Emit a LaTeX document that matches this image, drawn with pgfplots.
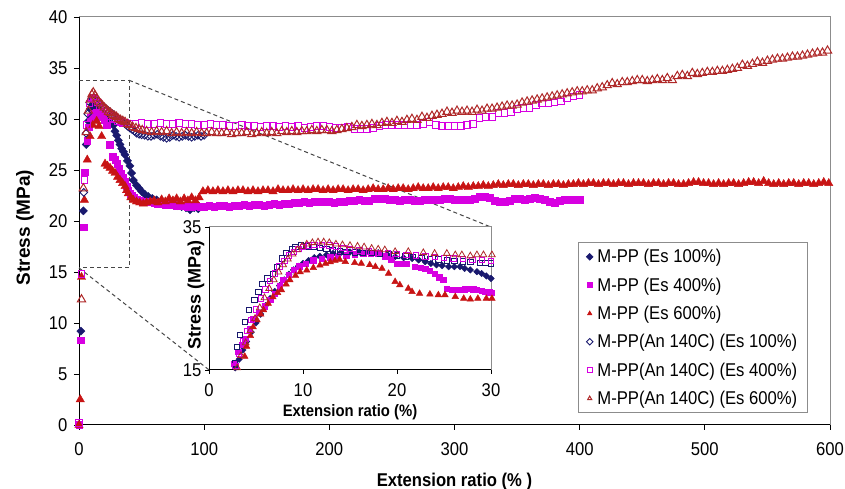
\documentclass[border=0pt]{standalone}
\usepackage{pgfplots}
\pgfplotsset{compat=1.18}
\usepackage{fontspec}
\setmainfont{Liberation Sans}[FakeStretch=0.9]
\newfontfamily\plainsans{Liberation Sans}
\definecolor{cnavy}{RGB}{25,25,110}
\definecolor{cmag}{RGB}{215,0,225}
\definecolor{cred}{RGB}{200,20,20}
\definecolor{copenred}{RGB}{175,40,40}
\definecolor{cdash}{RGB}{70,70,70}
\definecolor{cframe}{RGB}{140,140,140}
\begin{document}
\begin{tikzpicture}[x=1pt,y=1pt]
\useasboundingbox (0,0) rectangle (845,489);
\begin{axis}[
  at={(79pt,64pt)}, anchor=south west,
  scale only axis, width=751pt, height=408pt,
  xmin=0, xmax=600, ymin=0, ymax=40,
  xtick={0,100,...,600}, ytick={0,5,...,40},
  axis x line*=bottom, axis y line*=left,
  axis line style={black, line width=1pt, -},
  tick align=outside, major tick length=5pt,
  tick style={black, line width=0.8pt},
  /pgf/number format/assume math mode=true,
  tick label style={font=\fontsize{18.5}{20}\selectfont},
  xticklabel style={yshift=-9pt},
  yticklabel style={xshift=-3pt},
  xlabel={Extension ratio (\% )},
  ylabel={Stress (MPa)},
  xlabel style={font=\fontsize{18.5}{20}\selectfont\bfseries, at={(axis description cs:0.5,-0.139)}, anchor=center},
  ylabel style={font=\fontsize{19}{20}\plainsans\bfseries, at={(axis description cs:-0.072,0.484)}, anchor=center},
  clip=false,
  legend cell align=left,
  legend style={at={(rel axis cs:0.6645,0.4485)}, anchor=north west, draw=cframe, line width=0.8pt, fill=white,
    font=\fontsize{18.5}{20}\selectfont, row sep=9.4pt, inner xsep=8pt, inner ysep=5pt,
    nodes={inner sep=2pt}},
  legend image post style={mark size=2.3pt, line width=0.8pt},
]
% dashed zoom guides
\draw[cdash, dash pattern=on 4pt off 3pt, line width=1pt] (axis cs:0,33.8) -- (axis cs:40,33.8) -- (axis cs:40,15.4) -- (axis cs:0,15.4);
\draw[cdash, dash pattern=on 4pt off 3pt, line width=1pt] (axis cs:40,33.8) -- (axis cs:329.2,19.4);
\draw[cdash, dash pattern=on 4pt off 3pt, line width=1pt] (axis cs:0,15.4) -- (axis cs:103.9,5.4);
\draw[cframe, line width=1pt] (rel axis cs:0,1) -- (rel axis cs:1,1) -- (rel axis cs:1,0);

% M-PP (Es 100%)
\addplot[only marks, mark=square*, mark options={rotate=45}, mark size=2.9pt, color=cnavy] coordinates {
(1.5,9.2)(3.5,21.0)(5.8,27.5)(7.5,29.8)(9,31.0)(10.5,31.4)(12,31.3)(13.5,31.1)(15,30.9)(16.8,30.7)(18.5,30.5)(20.3,30.3)(22.1,30.1)(24,29.8)(25.7,29.6)(27.4,29.4)(28.8,28.8)(30.1,28.4)(31.4,27.9)(32.8,27.5)(34.1,27.1)(35.5,26.8)(36.8,26.5)(38.7,25.9)(40.7,25.4)(42,24.7)(43.4,24.0)(46,23.5)(48,23.2)(50.1,22.9)(52.7,22.6)(55.4,22.4)(58.5,22.2)(62,22.06)(65.5,21.9)(69,21.8)(72,21.75)(75.3,21.7)(79,21.5)(82,21.4)(85.5,21.3)(88.7,21.1)(92,21.3)(95.3,21.2)
};
\addlegendentry{\hspace{2.5pt}M-PP (Es 100\%)}

% M-PP (Es 400%)
\addplot[only marks, mark=square*, mark size=3.3pt, color=cmag] coordinates {
(0,0)(1.5,8.3)(3.8,19.4)(4.6,24.8)(6.6,27.9)(7.8,29.2)(9.3,30.1)(11,30.4)(12.5,30.5)(14,30.6)(16,30.4)(18,30.2)(20,29.9)(22,29.4)(24.5,27.5)(26.9,26.3)(28.8,26.0)(30.6,25.6)(32,25.1)(33.3,24.7)(35,24.3)(36.7,23.9)(38,23.4)(39.4,23.0)(40.8,22.7)(42.1,22.5)(44,22.3)(46,22.1)(48.5,22.0)(51,21.9)(54,21.9)(56.7,21.9)(60,21.8)(63,21.7)(66,21.7)(69,21.6)(72,21.6)(75,21.6)(78,21.5)(81,21.5)(84,21.5)(87,21.4)(90,21.4)(93,21.5)(96.7,21.4)
(100,21.4)(104,21.5)(108,21.4)(112,21.5)(116,21.5)(120,21.4)(124,21.5)(128,21.5)(132,21.6)(136,21.5)(140,21.6)(144,21.6)(148,21.5)(152,21.6)(156,21.7)(160,21.6)(164,21.7)(168,21.7)(172,21.8)(176,21.8)(180,21.9)(184,21.8)(188,21.9)(192,21.9)(196,21.9)(200,21.9)(204,21.8)(208,21.9)(212,21.9)(216,22.0)(220,22.0)(224,22.1)(228,22.0)(232,22.0)(236,22.2)(240,22.2)(244,22.2)(248,22.1)(252,22.1)(256,22.0)(260,22.1)(264,22.1)(268,22.0)(272,22.0)(276,22.1)(280,22.1)(284,22.1)(288,22.1)(292,22.2)(296,22.2)(300,22.1)(304,22.1)(308,22.1)(312,22.1)(316,22.2)(320,22.4)(324,22.4)(328,22.3)(332,22.0)(336,21.9)(340,21.9)(344,22.0)(348,22.2)(352,22.2)(356,22.1)(360,22.2)(364,22.3)(368,22.2)(372,22.1)(376,21.9)(380,21.8)(384,22.0)(388,22.1)(392,22.1)(396,22.1)(400,22.1)
};
\addlegendentry{\hspace{2.5pt}M-PP (Es 400\%)}

% M-PP (Es 600%)
\addplot[only marks, mark=triangle*, mark size=4.8pt, color=cred] coordinates {
(0,0)(1,2.5)(2,14.5)(4.3,22.06)(6.6,26.0)(8.8,28.3)(11,29.4)(14.1,29.8)(16,29.3)(18.1,28.3)(20.8,25.6)(22.8,25.4)(24.8,25.2)(26.8,24.9)(28.8,24.7)(30.8,24.3)(32.8,24.0)(34.8,23.7)(36.8,23.4)(38,23.0)(39.4,22.7)(41.4,22.3)(43.4,22.06)(46,21.9)(48.5,21.8)
(51.4,21.7)(54,21.8)(57,21.9)(60,22.0)(63,21.8)(66,22.1)(69,21.9)(72,22.2)(75,22.0)(78,22.2)(81,21.9)(84,22.2)(87,22.0)(90,22.3)(93,22.0)(96,22.3)
(99,22.9)(103,23.0)(107,22.9)(111,23.0)(115,22.9)(119,23.0)(123,22.9)(127,23.0)(131,23.0)(135,22.9)(139,23.0)(143,22.9)(147,23.0)(151,23.0)(155,22.9)(159,23.1)(163,23.0)(167,23.0)(171,23.1)(175,23.0)(179,23.1)(183,23.0)(187,23.1)(191,23.1)(195,23.0)(199,23.1)(203,23.0)(207,23.1)(211,23.1)(215,23.0)(219,23.1)(223,23.1)(227,23.0)(231,23.1)(235,23.2)(239,23.1)(243,23.1)(247,23.2)(251,23.1)(255,23.2)(259,23.2)(263,23.1)(267,23.2)(271,23.3)(275,23.2)(279,23.2)(283,23.3)(287,23.2)(291,23.3)(295,23.3)(299,23.2)(303,23.3)(307,23.4)(311,23.3)(315,23.4)(319,23.4)(323,23.5)(327,23.4)(331,23.5)(335,23.6)(339,23.5)(343,23.6)(347,23.6)(351,23.5)(355,23.6)(359,23.6)(363,23.5)(367,23.6)(371,23.6)(375,23.5)(379,23.6)(383,23.6)(387,23.5)(391,23.6)(395,23.6)(399,23.7)(403,23.6)(407,23.7)(411,23.7)(415,23.6)(419,23.7)(423,23.7)(427,23.6)(431,23.7)(435,23.7)(439,23.6)(443,23.7)(447,23.7)(451,23.7)(455,23.6)(459,23.7)(463,23.7)(467,23.6)(471,23.7)(475,23.7)(479,23.6)(483,23.6)(487,23.7)(491,23.8)(495,23.8)(499,23.7)(503,23.7)(507,23.6)(511,23.7)(515,23.6)(519,23.7)(523,23.7)(527,23.6)(531,23.7)(535,23.8)(539,23.8)(543,23.7)(547,23.9)(551,23.7)(555,23.6)(559,23.7)(563,23.6)(567,23.7)(571,23.7)(575,23.6)(579,23.7)(583,23.7)(587,23.6)(591,23.7)(595,23.8)(599,23.7)
};
\addlegendentry{\hspace{2.5pt}M-PP (Es 600\%)}

% M-PP(An 140C) (Es 100%)
\addplot[only marks, mark=square, mark options={rotate=45, line width=0.9pt}, mark size=2.7pt, color=cnavy] coordinates {
(3.8,22.8)(5.6,28.6)(7,30.5)(8.5,31.6)(10.1,32.0)(11.5,32.0)(13,31.9)(14.8,31.7)(16.8,31.5)(18.8,31.3)(20.8,31.1)(22.8,30.9)(24.8,30.7)(26.8,30.5)(28.8,30.3)(30.8,30.1)(32.8,29.9)(34.8,29.7)(36.8,29.5)
(38.7,29.3)(40.7,29.1)(42.5,28.95)(44.3,28.8)(46,28.6)(48,28.5)(50,28.45)(52.5,28.4)(55,28.3)(57.5,28.3)(60,28.4)(62.5,28.5)(65,28.3)(67.5,28.2)(70,28.1)(72.5,28.2)(75,28.4)(77.5,28.3)(80,28.2)(82.5,28.3)(85,28.4)(87.5,28.3)(90,28.2)(92.5,28.3)(95,28.4)(97.5,28.3)(100,28.4)
};
\addlegendentry{\hspace{2.5pt}M-PP(An 140C) (Es 100\%)}

% M-PP(An 140C) (Es 400%)
\addplot[only marks, mark=square, mark options={line width=1pt}, mark size=3.3pt, color=cmag] coordinates {
(0,0.2)(2,14.8)(4.3,24.0)(6.6,29.4)(8.5,31.5)(10,32.0)(11.5,32.1)(13,31.9)(15,31.6)(17,31.3)(19,31.0)(21,30.7)(23,30.5)(25,30.3)(27,30.1)(29,30.0)(31,29.8)(33,29.7)(35,29.6)(37,29.6)
(40,29.5)(45,29.5)(50,29.6)(55,29.5)(60,29.5)(65,29.6)(70,29.5)(75,29.5)(80,29.6)(85,29.5)(90,29.5)(95,29.4)(100,29.4)(105,29.5)(110,29.4)(115,29.4)(120,29.3)(125,29.3)(130,29.4)(135,29.3)(140,29.3)(145,29.2)(150,29.3)(155,29.3)(160,29.2)(165,29.3)(170,29.2)(175,29.3)(180,29.1)(185,29.2)(190,29.3)(195,29.3)(200,29.2)(205,29.1)(210,29.1)(215,29.2)(220,29.0)(225,29.0)(230,29.0)(235,29.1)(240,29.3)(245,29.4)(250,29.4)(255,29.4)(260,29.4)(265,29.4)(270,29.4)(275,29.5)(280,29.7)(285,29.4)(290,29.3)(295,29.3)(300,29.3)(305,29.3)(310,29.4)(315,29.5)(320,30.1)(325,30.2)(330,30.2)(335,30.6)(340,30.6)(345,30.7)(350,31.0)(355,31.1)(360,31.1)(365,31.4)(370,31.5)(375,31.5)(380,31.6)(385,31.7)(390,32.0)(395,32.2)(400,32.35)
};
\addlegendentry{\hspace{2.5pt}M-PP(An 140C) (Es 400\%)}

% M-PP(An 140C) (Es 600%)
\addplot[only marks, mark=triangle, mark options={line width=1pt}, mark size=4.8pt, color=copenred] coordinates {
(2,12.3)(3.5,23.2)(5.8,28.7)(7.5,30.8)(9,31.9)(10.3,32.4)(11.4,32.6)(12.8,32.3)(14.3,32.0)(15.8,31.7)(17.3,31.5)(18.8,31.3)(20.3,31.1)(22,30.9)(23.6,30.7)(25.2,30.6)(26.8,30.4)(28.4,30.3)(30,30.2)(31.6,30.0)(33.2,29.9)(35,29.8)(36.8,29.7)(38.7,29.5)(40.7,29.4)(43,29.2)(45.5,29.1)(48,29.0)
(50.5,28.9)(54,28.8)(58,28.7)(62,28.8)(66,28.7)(70,28.8)(74,28.6)(78,28.7)(82,28.6)(86,28.7)(90,28.6)(94,28.7)(98,28.6)(102,28.6)(106,28.7)(110,28.6)(114,28.6)(118,28.7)(122,28.5)(126,28.6)(130,28.6)(134,28.7)(138,28.5)(142,28.6)(146,28.7)(150,28.6)(154,28.7)(158,28.6)(162,28.8)(166,28.7)(170,28.8)(174,28.7)(178,28.8)(182,28.8)(186,28.9)(190,28.8)(194,28.9)(198,28.9)(202,28.8)(206,28.9)(210,29.0)(214,29.1)(218,29.2)(222,29.4)(226,29.3)(230,29.4)(234,29.5)(238,29.4)(242,29.6)(246,29.7)(250,29.6)(254,29.8)(258,29.7)(262,29.9)(266,30.0)(270,29.9)(274,30.2)(278,30.1)(282,30.3)(286,30.4)(290,30.5)(294,30.7)(298,30.6)(302,30.8)(306,30.7)(310,30.8)(314,30.7)(318,30.9)(322,30.8)(326,31.0)(330,31.0)(334,31.1)(338,31.2)(342,31.3)(346,31.3)(350,31.4)(354,31.6)(358,31.7)(362,31.8)(366,31.9)(370,32.0)(374,32.1)(378,32.2)(382,32.3)(386,32.4)(390,32.5)(394,32.6)(398,32.7)(402,32.7)(406,32.8)(410,32.8)(414,33.0)(418,33.1)(422,33.3)(426,33.5)(430,33.4)(434,33.6)(438,33.6)(442,33.7)(446,33.8)(450,33.8)(454,33.7)(458,33.8)(462,33.9)(466,33.8)(470,34.0)(474,33.8)(478,34.2)(482,34.3)(486,34.2)(490,34.5)(494,34.4)(498,34.5)(502,34.6)(506,34.6)(510,34.7)(514,34.7)(518,34.8)(522,34.9)(526,35.0)(530,35.3)(534,35.2)(538,35.4)(542,35.6)(546,35.5)(550,35.7)(554,35.8)(558,35.9)(562,35.9)(566,36.0)(570,36.1)(574,36.1)(578,36.2)(582,36.3)(586,36.4)(590,36.5)(594,36.5)(598,36.7)
};
\addlegendentry{\hspace{2.5pt}M-PP(An 140C) (Es 600\%)}
\end{axis}

% inset
\begin{axis}[
  at={(209pt,119pt)}, anchor=south west,
  scale only axis, width=282pt, height=143pt,
  xmin=0, xmax=30, ymin=15, ymax=35,
  xtick={0,10,20,30}, ytick={15,35},
  axis x line*=bottom, axis y line*=left,
  axis line style={black, line width=1pt, -},
  axis background/.style={fill=white},
  tick align=outside, major tick length=4pt,
  tick style={black, line width=0.8pt},
  /pgf/number format/assume math mode=true,
  tick label style={font=\fontsize{18.5}{20}\selectfont},
  xticklabel style={yshift=-6pt},
  xlabel={Extension ratio (\%)},
  ylabel={Stress (MPa)},
  xlabel style={font=\fontsize{16.5}{18}\selectfont\bfseries, at={(axis description cs:0.5,-0.294)}, anchor=center},
  ylabel style={font=\fontsize{18}{20}\plainsans\bfseries, at={(axis description cs:-0.046,0.524)}, anchor=center},
  clip=false,
]
\draw[cframe, line width=1pt] (rel axis cs:0,1) -- (rel axis cs:1,1) -- (rel axis cs:1,0);
\addplot[only marks, mark=square*, mark options={rotate=45}, mark size=2.3pt, color=cnavy] coordinates {
(2.8,15.3)(3.2,16.5)(3.6,17.8)(4.0,19.0)(4.5,20.3)(5.0,21.6)(5.5,22.8)(6.0,24.0)(6.5,25.0)(7.0,26.0)(7.5,26.8)(8.0,27.6)(8.5,28.4)(9.0,29.0)(9.5,29.5)(10,29.9)(10.6,30.3)(11.2,30.7)(11.8,30.9)(12.5,31.1)(13.2,31.3)(14,31.4)(15,31.5)(16,31.5)(17,31.5)(18,31.4)(19,31.1)(19.8,30.85)(20.7,30.7)(21.6,30.6)(22.3,30.4)(23.0,30.15)(23.6,29.9)(24.2,29.7)(24.8,29.6)(25.5,29.45)(26.1,29.45)(26.7,29.45)(27.2,29.2)(27.8,29.0)(28.5,28.75)(29.0,28.5)(29.5,28.15)(30.0,27.8)
};
\addplot[only marks, mark=square*, mark size=2.7pt, color=cmag] coordinates {
(2.7,15.9)(3.1,17.6)(3.5,18.5)(3.85,19.4)(4.3,20.8)(4.7,22.2)(5.3,23.0)(5.95,23.9)(6.5,24.8)(7.0,25.7)(7.5,26.7)(7.9,27.6)(8.5,28.3)(9.0,29.0)(9.6,29.5)(10.3,29.9)(11.1,30.35)(12,30.6)(12.9,30.8)(13.7,30.95)(14.6,31.05)(15.5,31.2)(16.4,31.3)(17.2,31.3)(18,31.3)(18.7,30.9)(19.4,30.5)(20,29.9)(20.5,29.9)(21,29.9)(21.9,29.45)(22.5,29.3)(23,29.2)(23.5,28.9)(24,28.5)(24.5,28.0)(24.9,27.6)(25.3,26.4)(25.8,26.2)(26.2,26.2)(26.7,26.2)(27.2,26.3)(27.6,26.4)(28.1,26.3)(28.5,26.2)(29,26.1)(29.4,25.95)(29.8,25.9)(30.1,25.8)
};
\addplot[only marks, mark=triangle*, mark size=3.8pt, color=cred] coordinates {
(3.8,16.9)(4.0,18.3)(4.4,19.8)(4.7,21.0)(5.1,22.0)(5.5,22.8)(5.8,23.4)(6.3,24.3)(6.8,25.2)(7.3,25.8)(7.7,26.2)(8.2,27.0)(8.6,27.6)(9.2,28.2)(9.7,28.7)(10.4,28.95)(11.1,29.3)(11.8,29.65)(12.4,29.9)(12.9,30.1)(13.4,30.3)(13.9,30.45)(14.5,30.15)(15.5,30.0)(16.2,29.9)(17.1,29.7)(17.7,29.45)(18.4,29.2)(19.1,28.5)(19.8,27.35)(20.3,26.9)(21.2,26.4)(21.6,25.95)(22.4,25.7)(23.5,25.6)(24.4,25.5)(25.1,25.5)(26.2,25.25)(27.1,25.0)(27.8,24.9)(28.6,25.0)(29.5,25.0)(30.1,25.0)
};
\addplot[only marks, mark=square, mark options={line width=0.8pt}, mark size=2.7pt, color=cnavy] coordinates {
(2.77,15.9)(2.94,18.2)(3.3,19.9)(3.83,21.75)(4.26,23.4)(4.82,24.8)(5.25,25.95)(5.67,27.0)(6.2,27.8)(6.77,28.4)(7.2,29.45)(7.73,30.6)(8.2,31.4)(8.87,31.9)(9.2,32.25)(9.8,32.44)(10.4,32.3)(11.1,32.2)(11.8,32.1)(12.5,31.9)(13.2,31.7)(13.9,31.6)(14.6,31.5)(15.5,31.45)(16.4,31.4)(17.3,31.35)(18.2,31.3)(19.1,31.2)(20,31.05)(20.9,30.9)(21.7,30.8)(22.6,30.7)(23.5,30.55)(24.4,30.45)(25.3,30.35)(26.1,30.25)(27,30.2)(27.8,30.1)(28.8,30.0)(29.4,29.95)(30,29.9)
};
\addplot[only marks, mark=square, mark options={line width=0.8pt}, mark size=2.7pt, color=cmag] coordinates {
(2.8,15.6)(3.2,17.3)(3.6,19)(4.0,20.5)(4.5,22)(5.0,23.5)(5.5,25)(6.0,26.3)(6.5,27.5)(7.0,28.5)(7.5,29.5)(8.0,30.3)(8.5,31.0)(9.0,31.5)(9.5,31.9)(10,32.2)(10.6,32.4)(11.2,32.5)(12,32.5)(12.8,32.4)(13.5,32.3)(14.3,32.1)(15,31.9)(16,31.7)(17,31.6)(18,31.4)(19,31.3)(20,31.2)(21,31.1)(22,31.0)(23,30.9)(24,30.8)(25,30.7)(26,30.6)(27,30.5)(28,30.4)(29,30.4)(30,30.3)
};
\addplot[only marks, mark=triangle, mark options={line width=0.8pt}, mark size=3.8pt, color=copenred] coordinates {
(3.0,15.3)(3.4,17)(3.9,18.8)(4.4,20.5)(4.9,22.2)(5.4,23.7)(5.9,25.1)(6.4,26.4)(6.9,27.6)(7.4,28.7)(7.9,29.7)(8.4,30.5)(8.9,31.2)(9.4,31.8)(9.9,32.3)(10.4,32.6)(11,32.8)(11.6,32.9)(12.2,32.9)(12.8,32.8)(13.5,32.6)(14.2,32.5)(15,32.4)(15.8,32.3)(16.5,32.2)(17.3,32.0)(18,31.9)(18.7,31.8)(19.8,31.55)(21.2,31.55)(22.8,31.4)(24.0,31.3)(25.3,31.3)(26.2,31.1)(26.9,31.1)(27.8,30.95)(28.5,31.1)(29.2,31.1)(30.1,31.1)
};
\end{axis}
\end{tikzpicture}
\end{document}
